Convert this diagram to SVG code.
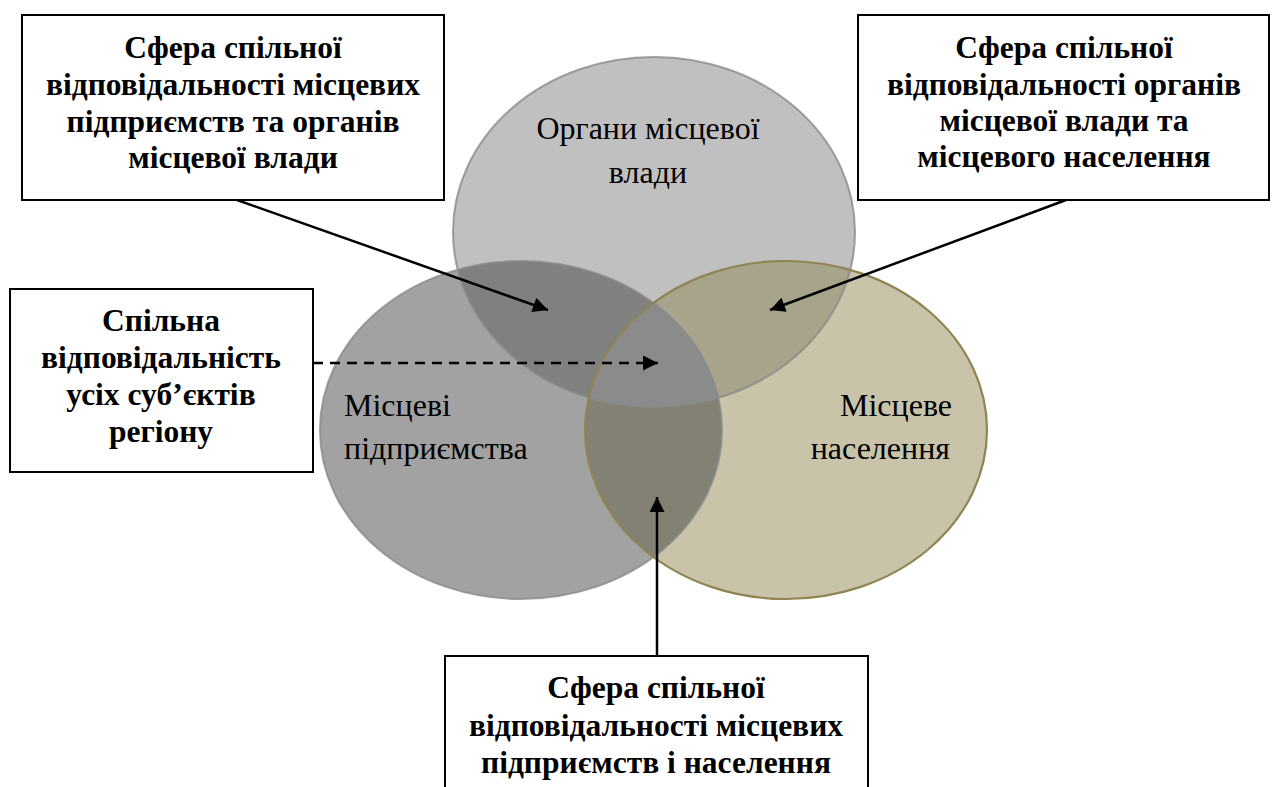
<svg xmlns="http://www.w3.org/2000/svg" width="1272" height="787" viewBox="0 0 1272 787">
<style>
.box{fill:#fff;stroke:#000;stroke-width:2}
.bt{font-family:"Liberation Serif","Times New Roman",serif;font-weight:bold;font-size:31.5px;fill:#000;text-anchor:middle}
.ct{font-family:"Liberation Serif","Times New Roman",serif;font-size:32px;fill:#000}
.ln{stroke:#000;stroke-width:2.5;fill:none}
</style>
<defs>
<ellipse id="eT" cx="654" cy="232" rx="201" ry="175"/>
<ellipse id="eL" cx="521" cy="430" rx="201" ry="169"/>
<ellipse id="eR" cx="786" cy="430" rx="201" ry="169"/>
<clipPath id="cT"><use href="#eT"/></clipPath>
<clipPath id="cL"><use href="#eL"/></clipPath>
<clipPath id="cR"><use href="#eR"/></clipPath>
<marker id="ah" viewBox="0 0 10 10" refX="10" refY="5" markerWidth="17" markerHeight="15" markerUnits="userSpaceOnUse" orient="auto">
<path d="M0,0 L10,5 L0,10 Z" fill="#000"/>
</marker>
</defs>
<g id="circles">
<use href="#eT" fill="#c0c0c0"/>
<use href="#eL" fill="#a2a2a2"/>
<use href="#eR" fill="#c9c3a9"/>
<g clip-path="url(#cT)"><use href="#eL" fill="#808080"/><use href="#eR" fill="#a8a38b"/></g>
<g clip-path="url(#cL)"><use href="#eR" fill="#838173"/></g>
<g clip-path="url(#cL)"><g clip-path="url(#cR)"><use href="#eT" fill="#8b8b8b"/></g></g>
<use href="#eT" fill="none" stroke="#8a8a8a" stroke-width="2" stroke-opacity="0.8"/>
<use href="#eL" fill="none" stroke="#8a8a8a" stroke-width="2" stroke-opacity="0.8"/>
<use href="#eR" fill="none" stroke="#8f8452" stroke-width="2.2"/>
</g>
<g id="circle-labels">
<text class="ct" x="648" y="139" text-anchor="middle">Органи місцевої</text>
<text class="ct" x="648" y="183" text-anchor="middle">влади</text>
<text class="ct" x="344" y="416">Місцеві</text>
<text class="ct" x="344" y="459">підприємства</text>
<text class="ct" x="952" y="416" text-anchor="end">Місцеве</text>
<text class="ct" x="950" y="459" text-anchor="end">населення</text>
</g>
<g id="connectors">
<line class="ln" x1="237" y1="200" x2="548" y2="310" marker-end="url(#ah)"/>
<line class="ln" x1="1066" y1="200" x2="770" y2="310" marker-end="url(#ah)"/>
<line class="ln" x1="313" y1="363" x2="658" y2="363" stroke-dasharray="10,7" marker-end="url(#ah)"/>
<line class="ln" x1="657" y1="656" x2="657" y2="497" marker-end="url(#ah)"/>
</g>
<g id="box-top-left">
<rect class="box" x="22" y="15" width="422" height="185"/>
<text class="bt" x="233" y="58">Сфера спільної</text>
<text class="bt" x="233" y="95">відповідальності місцевих</text>
<text class="bt" x="233" y="132">підприємств та органів</text>
<text class="bt" x="233" y="168">місцевої влади</text>
</g>
<g id="box-top-right">
<rect class="box" x="858" y="15" width="411" height="185"/>
<text class="bt" x="1064" y="58">Сфера спільної</text>
<text class="bt" x="1064" y="95">відповідальності органів</text>
<text class="bt" x="1064" y="131">місцевої влади та</text>
<text class="bt" x="1064" y="167">місцевого населення</text>
</g>
<g id="box-left">
<rect class="box" x="10" y="289" width="303" height="183"/>
<text class="bt" x="161" y="331">Спільна</text>
<text class="bt" x="161" y="368">відповідальність</text>
<text class="bt" x="161" y="405">усіх суб’єктів</text>
<text class="bt" x="161" y="442">регіону</text>
</g>
<g id="box-bottom">
<rect class="box" x="445" y="656" width="423" height="140"/>
<text class="bt" x="656" y="698">Сфера спільної</text>
<text class="bt" x="656" y="736">відповідальності місцевих</text>
<text class="bt" x="656" y="773">підприємств і населення</text>
</g>
</svg>
